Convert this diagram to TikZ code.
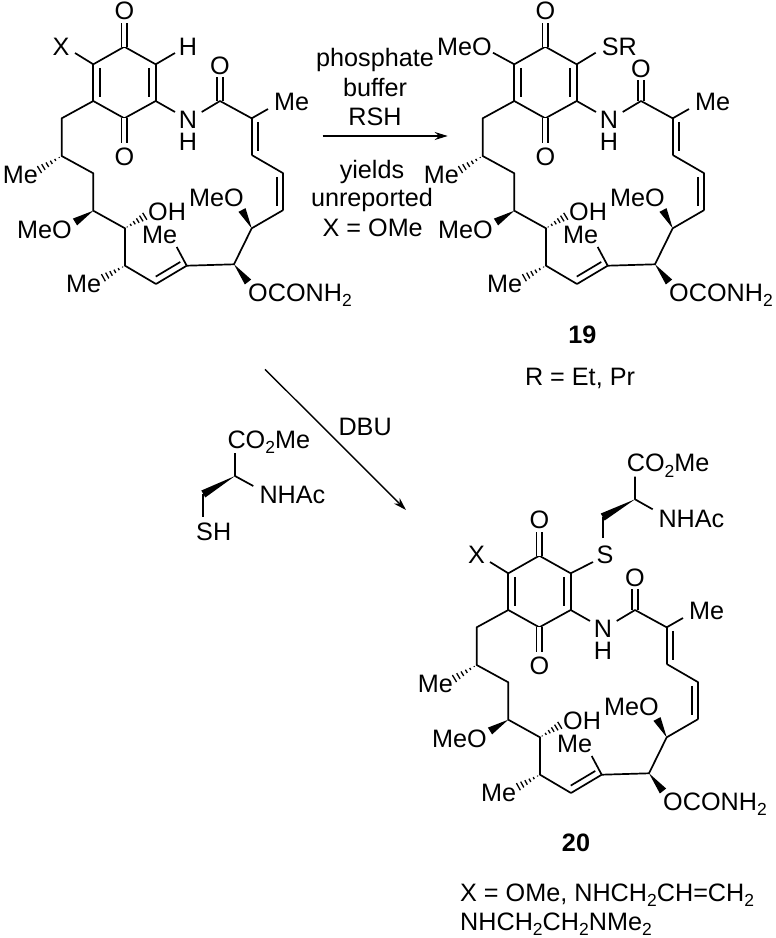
\documentclass[tikz,border=0pt]{standalone}
\usepackage{fontspec}
\setmainfont{Liberation Sans}
\usetikzlibrary{calc,arrows.meta}

\newcommand\chemfont{\fontsize{25.2}{29}\selectfont}
\newcommand\lowtwo{\raisebox{-5.5pt}{\fontsize{17.5}{17.5}\selectfont 2}}
\newcommand\innerbond[3]{
	\draw[bond] (#1) -- (#2);
	\coordinate (aux1) at ($(#1)!6.5pt!#3:(#2)$);
	\coordinate (aux2) at ($(#2)+(aux1)-(#1)$);
	\draw[bond] ($(aux1)!.1!(aux2)$) -- ($(aux2)!.1!(aux1)$);
}
\newcommand\wedgebond[2]{\fill (#1) -- ($(#2)!4pt!90:(#1)$) -- ($(#2)!4pt!-90:(#1)$) -- cycle;}
\newcommand\hashbond[2]{
	\foreach \t in {.1,.26,.42,.58,.74,.9} {
		\pgfmathsetlengthmacro\hw{\t*4.5pt}
		\coordinate (aux) at ($(#1)!\t!(#2)$);
		\draw[line width=1.3pt] ($(aux)!\hw!90:(#2)$) -- ($(aux)!\hw!-90:(#2)$);
	}
}

\tikzset{
	bond/.style={line width=1.7pt, line join=round},
	cobond/.style={bond, double, double distance=4pt},
	chem/.style={inner sep=0pt, anchor=base, font=\chemfont},
	chemw/.style={chem, anchor=base west},
	macrolactam/.pic={
		\foreach \n/\x/\y in {top/124.3/46.7, ur/155.7/64.3, lr/155.7/101, bot/124.3/118.3, ll/93.3/101, ul/93.3/64.3,
			ca/220/101, cb/251.7/118.3, cc/251.7/155, cd/283.3/173.3, ce/283.3/210, cf/251.7/228.3, cg/234/264.3,
			ch/186.7/265.7, ci/156/284, cj/125/265.7, ck/125/228.3, cl/93.3/210.7, cm/93.3/173.3, cn/61.7/156, co/61.7/118.3,
			otop/124.3/23, obot/124.3/143, nl/175/112, nr/201.7/112, mea/268/109, meb/176.7/247,
			wa/242/210, wb/248/282, wc/75/222, ha/147/215, hb/101/279, hc/37/171}
			\coordinate (\n) at (\x,\y);
		\coordinate (oam) at (220,{#1+3});
		\node[chem] (ot) at (124.3,19.5) {O};
		\node[chem] (ob) at (124.3,165) {O};
		\node[chem] (oa) at (220,#1) {O};
		\node[chem] (nn) at (188,128) {N};
		\node[chem] (nh) at (188,150.5) {H};
		\node[chemw] (mer) at (274,110) {Me};
		\node[chemw] (mel) at (2.7,183) {Me};
		\node[chemw] (meoa) at (189,206) {MeO};
		\node[chemw] (oh) at (148,220) {OH};
		\node[chemw] (mem) at (142,243) {Me};
		\node[chemw] (meob) at (17,238) {MeO};
		\node[chemw] (mes) at (66,292) {Me};
		\node[chemw] (carb) at (248,301) {OCONH\lowtwo};
		\draw[bond] (ur) -- (top) -- (ul);
		\draw[bond] (lr) -- (bot) -- (ll);
		\innerbond{ul}{ll}{90}
		\innerbond{ur}{lr}{-90}
		\draw[cobond] (top) -- (otop);
		\draw[cobond] (bot) -- (obot);
		\draw[cobond] (ca) -- (oam);
		\draw[bond] (lr) -- (nl);
		\draw[bond] (nr) -- (ca) -- (cb) -- (mea);
		\innerbond{cb}{cc}{90}
		\draw[bond] (cc) -- (cd);
		\innerbond{cd}{ce}{-90}
		\draw[bond] (ce) -- (cf) -- (cg) -- (ch);
		\draw[bond] (ch) -- (meb);
		\innerbond{ci}{ch}{90}
		\draw[bond] (ci) -- (cj) -- (ck) -- (cl) -- (cm) -- (cn) -- (co) -- (ll);
		\wedgebond{cf}{wa}
		\wedgebond{cg}{wb}
		\wedgebond{cl}{wc}
		\hashbond{ck}{ha}
		\hashbond{cj}{hb}
		\hashbond{cn}{hc}
	}
}

\begin{document}
\begin{tikzpicture}[x=1pt,y=-1pt]
	\useasboundingbox (0,0) rectangle (776,938);

	\pic (mola-) at (0,0) {macrolactam=74};
	\node[chem] (xa) at (61,55) {X};
	\node[chem] (ha) at (188,55) {H};
	\coordinate (xaend) at (75,53);
	\coordinate (haend) at (175,53);
	\draw[bond] (mola-ul) -- (xaend);
	\draw[bond] (mola-ur) -- (haend);

	\pic (molb-) at (421,0) {macrolactam=77};
	\node[chemw] (meob) at (437,55) {MeO};
	\node[chemw] (srb) at (601.7,55) {SR};
	\coordinate (meobend) at (493,52.7);
	\coordinate (srbend) at (595.7,52.7);
	\draw[bond] (molb-ul) -- (meobend);
	\draw[bond] (molb-ur) -- (srbend);
	\node[chem,font=\chemfont\bfseries] (nineteen) at (582.3,343.3) {19};
	\node[chem] (rdef) at (580,385) {R = Et, Pr};

	\pic (molc-) at (415,509) {macrolactam=77};
	\node[chem] (xc) at (476.5,563) {X};
	\node[chem] (sc) at (605,563) {S};
	\node[chemw] (esterc) at (626.7,471.7) {CO\lowtwo Me};
	\node[chemw] (amidec) at (658.3,527) {NHAc};
	\coordinate (xcend) at (490,562);
	\coordinate (scend) at (593,562);
	\coordinate (sctop) at (602.7,538);
	\coordinate (chtwoc) at (602.7,517);
	\coordinate (alphac) at (635,499.3);
	\coordinate (estercend) at (635,476.7);
	\coordinate (amidecend) at (652.7,509.3);
	\draw[bond] (molc-ul) -- (xcend);
	\draw[bond] (molc-ur) -- (scend);
	\draw[bond] (sctop) -- (chtwoc);
	\draw[bond] (estercend) -- (alphac) -- (amidecend);
	\wedgebond{alphac}{chtwoc}
	\node[chem,font=\chemfont\bfseries] (twenty) at (576,851.7) {20};
	\node[chemw] (xdefa) at (460,901) {X = OMe, NHCH\lowtwo CH=CH\lowtwo};
	\node[chemw] (xdefb) at (460,930) {NHCH\lowtwo CH\lowtwo NMe\lowtwo};

	\coordinate (arra) at (322.7,136);
	\coordinate (arrb) at (447.7,136);
	\draw[line width=1.4pt,-{Stealth[length=13pt,width=8pt]}] (arra) -- (arrb);
	\node[chem] (phos) at (375,66) {phosphate};
	\node[chem] (buff) at (375,96) {buffer};
	\node[chem] (rsh) at (375,125) {RSH};
	\node[chem] (yld) at (372,178) {yields};
	\node[chem] (unrep) at (372,206.7) {unreported};
	\node[chem] (xome) at (372.7,236.7) {X = OMe};

	\coordinate (arrc) at (265,369.3);
	\coordinate (arrd) at (406,510);
	\draw[line width=1.4pt,-{Stealth[length=13pt,width=8pt]}] (arrc) -- (arrd);
	\node[chemw] (dbu) at (338.3,435) {DBU};

	\node[chemw] (ester) at (227.3,448.3) {CO\lowtwo Me};
	\node[chemw] (amide) at (259.3,503.3) {NHAc};
	\node[chemw] (thiol) at (196,540) {SH};
	\coordinate (alpha) at (235,476);
	\coordinate (esterend) at (235,453);
	\coordinate (amideend) at (253.3,486);
	\coordinate (chtwo) at (203.3,494);
	\coordinate (thiolend) at (203.3,516.7);
	\draw[bond] (esterend) -- (alpha) -- (amideend);
	\draw[bond] (chtwo) -- (thiolend);
	\wedgebond{alpha}{chtwo}
\end{tikzpicture}
\end{document}
